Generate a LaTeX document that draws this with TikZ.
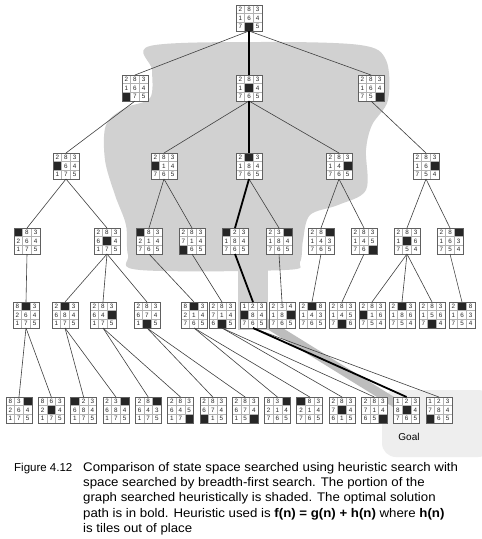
\documentclass[tikz,border=0pt]{standalone}
\usepackage{fontspec}
\setmainfont{Liberation Sans}
\pgfdeclarelayer{background}
\pgfsetlayers{background,main}
\tikzset{
  pzbox/.style={draw=gray!75!black, line width=0.5pt, minimum size=26pt, inner sep=0pt, outer sep=0pt, fill=white},
  pzborder/.style={draw=gray!75!black, line width=0.5pt},
  pzdigit/.style={font=\fontsize{6.3}{7}\selectfont, inner sep=0pt, text=black!85},
  pzblank/.style={fill=black!85},
  pzgrid/.style={draw=gray!60, line width=0.4pt},
  edge/.style={draw=black!75, line width=0.6pt},
  boldedge/.style={draw=black, line width=1.8pt},
  shadeA/.style={fill=gray!36},
  shadeB/.style={fill=gray!13},
  captxt/.style={font=\fontsize{12.5}{15.3}\selectfont\addfontfeatures{FakeStretch=1.06}, inner sep=0pt, align=left},
  caplbl/.style={font=\fontsize{11.5}{15.3}\selectfont, inner sep=0pt},
}
\newcommand\pzname{}
\newcommand\pzc[3]{%
  \ifnum#3=0
    \fill[pzblank] ([xshift=#1*8.667pt, yshift=-#2*8.667pt]\pzname.north west) rectangle ++(8.667,8.667);
  \else
    \node[pzdigit] at ([xshift=#1*8.667pt+4.333pt, yshift=-#2*8.667pt-4.333pt]\pzname.north west) {#3};
  \fi}
\def\pzcells#1#2#3#4#5#6#7#8#9{\pzc{0}{0}{#1}\pzc{1}{0}{#2}\pzc{2}{0}{#3}%
  \pzc{0}{1}{#4}\pzc{1}{1}{#5}\pzc{2}{1}{#6}\pzc{0}{2}{#7}\pzc{1}{2}{#8}\pzc{2}{2}{#9}}
\newcommand\puz[3]{%
  \node[pzbox] (#1) at (#2) {};
  \renewcommand\pzname{#1}%
  \pzcells#3%
  \draw[pzgrid] ([xshift=8.667pt]#1.north west) -- ([xshift=8.667pt]#1.south west)
    ([xshift=17.333pt]#1.north west) -- ([xshift=17.333pt]#1.south west)
    ([yshift=-8.667pt]#1.north west) -- ([yshift=-8.667pt]#1.north east)
    ([yshift=-17.333pt]#1.north west) -- ([yshift=-17.333pt]#1.north east);
  \draw[pzborder] (#1.north west) rectangle (#1.south east);}
\begin{document}
\begin{tikzpicture}[x=1pt,y=-1pt]
\useasboundingbox (0,0) rectangle (482,539);
% ---------- puzzles ----------
\puz{root}{249,18}{283164705}
\puz{la}{135,88}{283164075}
\puz{lb}{249,88}{283104765}
\puz{lc}{371,88}{283164750}
\puz{ma}{66,166}{283064175}
\puz{mb}{164,166}{283014765}
\puz{mc}{249,166}{203184765}
\puz{md}{339,166}{283140765}
\puz{me}{426,166}{283160754}
\puz{c1}{27,241}{083264175}
\puz{c2}{107,241}{283604175}
\puz{c3}{149,241}{083214765}
\puz{c4}{192,241}{283714065}
\puz{c5}{235,241}{023184765}
\puz{c6}{279,241}{230184765}
\puz{c7}{321,241}{280143765}
\puz{c8}{364,241}{283145760}
\puz{c9}{407,241}{283106754}
\puz{c10}{450,241}{280163754}
\puz{d1}{26,315}{803264175}
\puz{d2}{65,315}{203684175}
\puz{d3}{103,315}{283640175}
\puz{d4}{147,315}{283674105}
\puz{d5}{194,315}{803214765}
\puz{d6}{222,315}{283714605}
\puz{d7}{253,315}{123084765}
\puz{d8}{282,315}{234180765}
\puz{d9}{312,315}{208143765}
\puz{d10}{342,315}{283145706}
\puz{d11}{372,315}{283016754}
\puz{d12}{402,315}{203186754}
\puz{d13}{432,315}{283156704}
\puz{d14}{462,315}{208163754}
\puz{e1}{19,410}{830264175}
\puz{e2}{51.3,410}{863204175}
\puz{e3}{83.6,410}{023684175}
\puz{e4}{115.9,410}{230684175}
\puz{e5}{148.2,410}{280643175}
\puz{e6}{180.5,410}{283645170}
\puz{e7}{212.8,410}{283674015}
\puz{e8}{245.1,410}{283674150}
\puz{e9}{277.4,410}{830214765}
\puz{e10}{309.7,410}{083214765}
\puz{e11}{342,410}{283704615}
\puz{e12}{374.3,410}{283714650}
\puz{e13}{406.6,410}{123804765}
\puz{e14}{438.9,410}{123784065}
% ---------- connectors ----------
\draw[edge] (root.south) -- (la.north);
\draw[edge] (root.south) -- (lc.north);
\draw[edge] (la.south) -- (ma.north);
\draw[edge] (lb.south) -- (mb.north);
\draw[edge] (lb.south) -- (md.north);
\draw[edge] (lc.south) -- (me.north);
\draw[edge] (ma.south) -- (c1.north);
\draw[edge] (ma.south) -- (c2.north);
\draw[edge] (mb.south) -- (c3.north);
\draw[edge] (mb.south) -- (c4.north);
\draw[edge] (mc.south) -- (c6.north);
\draw[edge] (md.south) -- (c7.north);
\draw[edge] (md.south) -- (c8.north);
\draw[edge] (me.south) -- (c9.north);
\draw[edge] (me.south) -- (c10.north);
\draw[edge] (c1.south) -- (d1.north);
\draw[edge] (c2.south) -- (d2.north);
\draw[edge] (c2.south) -- (d3.north);
\draw[edge] (c2.south) -- (d4.north);
\draw[edge] (c3.south) -- (d5.north);
\draw[edge] (c4.south) -- (d6.north);
\draw[edge] (c6.south) -- (d8.north);
\draw[edge] (c7.south) -- (d9.north);
\draw[edge] (c8.south) -- (d10.north);
\draw[edge] (c9.south) -- (d11.north);
\draw[edge] (c9.south) -- (d12.north);
\draw[edge] (c9.south) -- (d13.north);
\draw[edge] (c10.south) -- (d14.north);
\draw[edge] (d1.south) -- (e1.north);
\draw[edge] (d1.south) -- (e2.north);
\draw[edge] (d2.south) -- (e3.north);
\draw[edge] (d2.south) -- (e4.north);
\draw[edge] (d3.south) -- (e5.north);
\draw[edge] (d3.south) -- (e6.north);
\draw[edge] (d4.south) -- (e7.north);
\draw[edge] (d4.south) -- (e8.north);
\draw[edge] (d5.south) -- (e9.north);
\draw[edge] (d5.south) -- (e10.north);
\draw[edge] (d6.south) -- (e11.north);
\draw[edge] (d6.south) -- (e12.north);
\draw[edge] (d7.south) -- (e14.north);
% bold solution path
\draw[boldedge] (root.south) -- (lb.north);
\draw[boldedge] (lb.south) -- (mc.north);
\draw[boldedge] (mc.south) -- (c5.north);
\draw[boldedge] (c5.south) -- (d7.north);
\draw[boldedge] (d7.south) -- (e13.north);
% ---------- shading ----------
\begin{pgfonlayer}{background}
\fill[white] (0,0) rectangle (482,539);
\fill[shadeB, rounded corners=14pt] (382,390) rectangle (492,457);
\fill[shadeA] plot[smooth cycle, tension=0.55] coordinates {
  (150,46) (260,42) (360,45) (386,60) (388,100) (372,125) (366,150)
  (366,190) (338,205) (310,215) (303,240) (300,262) (285,270)
  (140,270) (128,255) (126,225) (115,195) (105,160) (106,125)
  (125,108) (150,98) (152,70)};
\fill[shadeA] (238,262) rectangle (268,330);
\draw[line width=9pt, gray!52] (d7.center) -- (e13.center);
\end{pgfonlayer}
% ---------- labels ----------
\node[font=\fontsize{10}{12}\selectfont, inner sep=0pt] (goal) at (409,437) {Goal};
\node[caplbl, anchor=north west] (figlbl) at (14,462.5) {Figure 4.12};
\node[captxt, anchor=north west] (figcap) at (83,462) {Comparison of state space searched using heuristic search with\\
space searched by breadth-first search. The portion of the\\
graph searched heuristically is shaded. The optimal solution\\
path is in bold. Heuristic used is \textbf{f(n) = g(n) + h(n)} where \textbf{h(n)}\\
is tiles out of place};
\end{tikzpicture}
\end{document}
